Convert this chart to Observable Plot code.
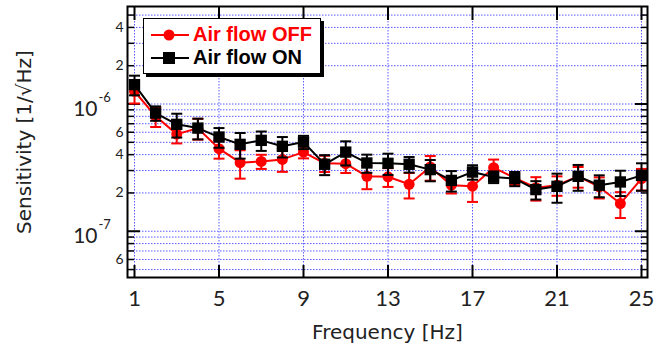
<!DOCTYPE html>
<html>
<head>
<meta charset="utf-8">
<script src="https://cdn.jsdelivr.net/npm/d3@7"></script>
<script src="https://cdn.jsdelivr.net/npm/@observablehq/plot@0.6"></script>
<style>
  html, body { margin: 0; padding: 0; background: #fff; }
  #wrap { position: relative; width: 654px; height: 354px; }
  #legend {
    position: absolute; left: 143px; top: 18px; width: 178px; height: 56px;
    box-sizing: border-box; border: 1.5px solid #000; box-shadow: 3px 3px 0 #000;
    background: #fff; font-family: "Liberation Sans", Arial, sans-serif; font-weight: bold;
    font-size: 20px; padding-top: 4px;
  }
  .row { display: flex; align-items: center; height: 23px; padding-left: 6px; }
  .row svg { margin-right: 3px; }
</style>
</head>
<body>
<div id="wrap"></div>
<script>
// ---- data ----
const freq = [1,2,3,4,5,6,7,8,9,10,11,12,13,14,15,16,17,18,19,20,21,22,23,24,25];

const offVal = [1.26e-6,0.80e-6,0.58e-6,0.645e-6,0.446e-6,0.346e-6,0.354e-6,0.367e-6,0.419e-6,0.342e-6,
                0.340e-6,0.270e-6,0.268e-6,0.234e-6,0.320e-6,0.230e-6,0.226e-6,0.316e-6,0.262e-6,0.220e-6,
                0.230e-6,0.270e-6,0.223e-6,0.165e-6,0.259e-6];
const offErr = [0.25e-6,0.14e-6,0.09e-6,0.12e-6,0.074e-6,0.087e-6,0.045e-6,0.074e-6,0.045e-6,0.05e-6,
                0.053e-6,0.056e-6,0.045e-6,0.053e-6,0.07e-6,0.032e-6,0.056e-6,0.05e-6,0.03e-6,0.046e-6,
                0.04e-6,0.05e-6,0.042e-6,0.038e-6,0.05e-6];

const onVal = [1.42e-6,0.848e-6,0.692e-6,0.647e-6,0.550e-6,0.482e-6,0.518e-6,0.465e-6,0.502e-6,0.336e-6,
               0.419e-6,0.344e-6,0.342e-6,0.336e-6,0.305e-6,0.251e-6,0.292e-6,0.267e-6,0.259e-6,0.2125e-6,
               0.2255e-6,0.270e-6,0.230e-6,0.244e-6,0.275e-6];
const onErr = [0.25e-6,0.11e-6,0.147e-6,0.12e-6,0.097e-6,0.11e-6,0.09e-6,0.085e-6,0.06e-6,0.06e-6,
               0.09e-6,0.056e-6,0.065e-6,0.047e-6,0.058e-6,0.046e-6,0.038e-6,0.028e-6,0.033e-6,0.035e-6,
               0.058e-6,0.062e-6,0.045e-6,0.055e-6,0.067e-6];

const seriesNames = ["Air flow OFF", "Air flow ON"];
const seriesColors = ["#ff0000", "#000000"];

const xTicks = [1,5,9,13,17,21,25];
const xTickText = ["1","5","9","13","17","21","25"];
const yMinor = [5e-8,6e-8,7e-8,8e-8,9e-8,2e-7,3e-7,4e-7,5e-7,6e-7,7e-7,8e-7,9e-7,2e-6,3e-6,4e-6,5e-6];
const yDecades = [1e-7, 1e-6];
const yDecadeExp = ["-7", "-6"];
const yLabelTicks = [6e-8, 2e-7, 4e-7, 6e-7, 2e-6, 4e-6];
const yLabelText = ["6", "2", "4", "6", "2", "4"];

const xTitle = "Frequency [Hz]";
const yTitle = "Sensitivity [1/\u221AHz]";

// ---- build tables ----
const offData = freq.map((f, i) => ({f, v: offVal[i], lo: offVal[i] - offErr[i], hi: offVal[i] + offErr[i]}));
const onData = freq.map((f, i) => ({f, v: onVal[i], lo: onVal[i] - onErr[i], hi: onVal[i] + onErr[i]}));
const yLabels = yLabelTicks.map((v, i) => ({v, t: yLabelText[i]}));
const xLabels = xTicks.map((v, i) => ({v, t: xTickText[i]}));
const decades = yDecades.map((v, i) => ({v, e: yDecadeExp[i]}));
const yGrid = [...yMinor, ...yDecades];

const capSymbol = {
  draw(ctx, size) {
    const w = Math.sqrt(size / Math.PI);
    ctx.moveTo(-w, 0); ctx.lineTo(w, 0);
  }
};

function series(data, color, symbol, r) {
  return [
    Plot.ruleX(data, {x: "f", y1: "lo", y2: "hi", stroke: color, strokeWidth: 2}),
    Plot.dot(data, {x: "f", y: "hi", symbol: capSymbol, r: 5.5, stroke: color, strokeWidth: 2}),
    Plot.dot(data, {x: "f", y: "lo", symbol: capSymbol, r: 5.5, stroke: color, strokeWidth: 2}),
    Plot.line(data, {x: "f", y: "v", stroke: color, strokeWidth: 2}),
    Plot.dot(data, {x: "f", y: "v", symbol, r, fill: color, stroke: "none"})
  ];
}

const tickFont = "Lato, 'Noto Sans', sans-serif";
const titleFont = "'DejaVu Sans', sans-serif";
const gridStyle = {stroke: "#5a5aff", strokeOpacity: 1, strokeWidth: 1, strokeDasharray: "1.5,1.5"};
const tickStyle = {tickFormat: () => "", stroke: "#000", label: null};

const chart = Plot.plot({
  width: 654,
  height: 354,
  marginLeft: 127,
  marginRight: 7,
  marginTop: 6,
  marginBottom: 77,
  style: {fontFamily: tickFont, color: "#222", background: "#fff"},
  x: {domain: [0.6686, 25.284]},
  y: {type: "log", domain: [4.33e-8, 5.84e-6]},
  marks: [
    Plot.gridY(yGrid, gridStyle),
    Plot.gridX(xTicks, gridStyle),
    // inward ticks
    Plot.axisY(yMinor, {anchor: "left", tickSize: -7, strokeWidth: 1.5, ...tickStyle}),
    Plot.axisY(yMinor, {anchor: "right", tickSize: -7, strokeWidth: 1.5, ...tickStyle}),
    Plot.axisY(yDecades, {anchor: "left", tickSize: -13, strokeWidth: 2, ...tickStyle}),
    Plot.axisY(yDecades, {anchor: "right", tickSize: -13, strokeWidth: 2, ...tickStyle}),
    Plot.axisX(xTicks, {anchor: "bottom", tickSize: -12, strokeWidth: 2, ...tickStyle}),
    Plot.axisX(xTicks, {anchor: "top", tickSize: -13, strokeWidth: 2, ...tickStyle}),
    // tick labels
    Plot.text(yLabels, {y: "v", text: "t", frameAnchor: "left", textAnchor: "end", dx: -4, fontSize: 14, fill: "#222"}),
    Plot.text(xLabels, {x: "v", text: "t", frameAnchor: "bottom", lineAnchor: "top", dy: 13, fontSize: 22, fill: "#222"}),
    Plot.text(decades, {y: "v", text: () => "10", frameAnchor: "left", textAnchor: "end", dx: -30, dy: 5, fontSize: 21, fill: "#222"}),
    Plot.text(decades, {y: "v", text: "e", frameAnchor: "left", textAnchor: "start", dx: -29, dy: -6, fontSize: 13, fill: "#222"}),
    // titles
    Plot.text([xTitle], {frameAnchor: "bottom", textAnchor: "middle", dy: 61, fontSize: 20, fontFamily: titleFont, fill: "#222"}),
    Plot.text([yTitle], {frameAnchor: "left", textAnchor: "middle", rotate: -90, dx: -103, fontSize: 20, fontFamily: titleFont, fill: "#222"}),
    // data
    ...series(offData, seriesColors[0], "circle", 5.5),
    ...series(onData, seriesColors[1], "square", 6.4),
    Plot.frame({stroke: "#000", strokeWidth: 2})
  ]
});

const wrap = document.getElementById("wrap");
wrap.appendChild(chart);

// legend
const legend = document.createElement("div");
legend.id = "legend";
seriesNames.forEach((name, i) => {
  const row = document.createElement("div");
  row.className = "row";
  row.style.color = seriesColors[i];
  const marker = i === 0
    ? `<circle cx="19" cy="10" r="5.5" fill="${seriesColors[i]}"/>`
    : `<rect x="13" y="4" width="12" height="12" fill="${seriesColors[i]}"/>`;
  row.innerHTML = `<svg width="40" height="20"><line x1="1" x2="39" y1="10" y2="10" stroke="${seriesColors[i]}" stroke-width="2"/>${marker}</svg><span>${name}</span>`;
  legend.appendChild(row);
});
wrap.appendChild(legend);
</script>
</body>
</html>
